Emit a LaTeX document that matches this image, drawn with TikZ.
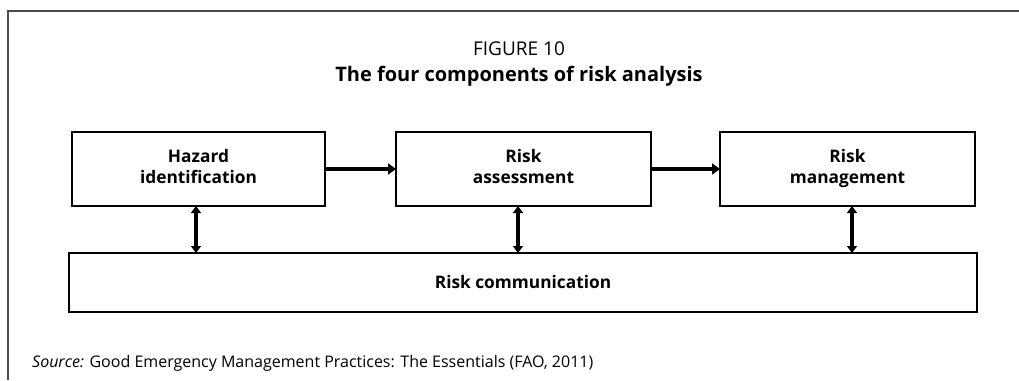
\documentclass[tikz,border=0pt]{standalone}
\usepackage{fontspec}
\setmainfont{Open Sans}
\usetikzlibrary{arrows.meta}
\begin{document}
\begin{tikzpicture}[x=1pt,y=1pt,
  compbox/.style={draw=black,line width=2pt,fill=white,inner sep=0pt,outer sep=0pt,
    align=center,font=\fontsize{17.3}{21.3}\selectfont\bfseries},
  flowarrow/.style={line width=4pt,-{Triangle[length=8pt,width=11pt]}},
  linkarrow/.style={line width=3.5pt,{Triangle[length=7pt,width=10pt]}-{Triangle[length=7pt,width=10pt]}},
  frameline/.style={draw=black!70,line width=1.5pt}]
\useasboundingbox (0,0) rectangle (1019,-380);
% frame
\coordinate (ftl) at (8,-11);
\coordinate (ftr) at (1019,-11);
\coordinate (fbl) at (8,-380);
\draw[frameline] (ftr) -- (ftl) -- (fbl);
% titles
\node[anchor=base,font=\fontsize{19}{22}\selectfont] (fig) at (519,-55) {FIGURE 10};
\node[anchor=base,font=\fontsize{20}{23}\selectfont\bfseries] (title) at (519,-81) {The four components of risk analysis};
% boxes
\node[compbox,minimum width=253pt,minimum height=74pt] (haz) at (198.5,-169) {\strut Hazard\\\strut identification};
\node[compbox,minimum width=255pt,minimum height=74pt] (ass) at (523.5,-169) {\strut Risk\\\strut assessment};
\node[compbox,minimum width=255pt,minimum height=74pt] (man) at (847.5,-169) {\strut Risk\\\strut management};
\node[compbox,minimum width=908pt,minimum height=59pt] (com) at (523,-282.5) {Risk communication};
% arrows
\draw[flowarrow] (haz.east) -- (ass.west);
\draw[flowarrow] (ass.east) -- (man.west);
\draw[linkarrow] ([xshift=-2.5pt]haz.south) -- ([xshift=-2.5pt]haz.south |- com.north);
\draw[linkarrow] ([xshift=-5.5pt]ass.south) -- ([xshift=-5.5pt]ass.south |- com.north);
\draw[linkarrow] ([xshift=4.5pt]man.south) -- ([xshift=4.5pt]man.south |- com.north);
% source
\node[anchor=base west,inner sep=0pt,font=\fontsize{16}{19}\selectfont] (src) at (32,-367) {\textit{Source:} Good Emergency Management Practices: The Essentials (FAO, 2011)};
\end{tikzpicture}
\end{document}
